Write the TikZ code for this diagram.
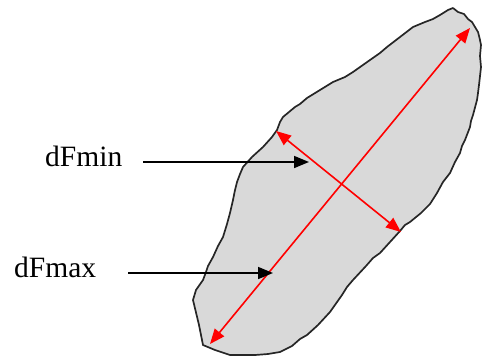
\documentclass[tikz,border=0pt]{standalone}
\usepackage{fontspec}
\setmainfont{Liberation Serif}
\usetikzlibrary{arrows.meta}

\definecolor{grainfill}{RGB}{217,217,217}

\begin{document}
\begin{tikzpicture}[x=1pt, y=-1pt,
  grain/.style={draw=black!85, fill=grainfill, line width=1.7pt, line join=round},
  feret/.style={draw=red, line width=1.6pt, {Triangle[length=15pt, width=12pt]}-{Triangle[length=15pt, width=12pt]}},
  pointer/.style={draw=black, line width=1.6pt, -{Triangle[length=15pt, width=12pt]}},
  label/.style={anchor=base west, inner sep=0pt, font=\fontsize{29.5}{32}\selectfont}]
  \useasboundingbox (0,0) rectangle (482,360);

  % grain outline
  \draw[grain] (453,8) -- (458,12) -- (464,14) -- (468,19) -- (472,22) -- (478,32)
    -- (480,40) -- (481,45) -- (480,56) -- (481,67) -- (479,85) -- (478,93)
    -- (477,100) -- (473,115) -- (471,121) -- (470,127) -- (465,140) -- (462,146)
    -- (460,153) -- (455,162) -- (450,173) -- (443,182) -- (437,193) -- (430,204)
    -- (421,213) -- (410,222) -- (405,225) -- (400,231) -- (390,242) -- (380,253)
    -- (373,258) -- (366,266) -- (353,280) -- (347,287) -- (342,295) -- (330,312)
    -- (318,325) -- (307,335) -- (300,339) -- (292,346) -- (280,352) -- (268,354)
    -- (255,355) -- (230,355) -- (215,350) -- (203,345) -- (201,335) -- (199,325)
    -- (193,300) -- (196,290) -- (203,280) -- (206,272) -- (208,266) -- (213,257)
    -- (218,246) -- (223,237) -- (227,224) -- (230,213) -- (233,200) -- (235,190)
    -- (237,182) -- (240,174) -- (243,167) -- (252,157) -- (263,147) -- (272,137)
    -- (277,130) -- (280,122) -- (283,117) -- (295,107) -- (300,104) -- (307,98)
    -- (320,90) -- (333,82) -- (345,77) -- (353,72) -- (370,60) -- (380,53)
    -- (387,47) -- (400,37) -- (413,27) -- (425,22) -- (433,19) -- (440,15)
    -- (448,10) -- cycle;

  % Feret diameters
  \coordinate (maxA) at (470,28);
  \coordinate (maxB) at (210,344);
  \coordinate (minA) at (276,131);
  \coordinate (minB) at (401,232);
  \draw[feret] (maxB) -- (maxA);
  \draw[feret] (minA) -- (minB);

  % labels
  \node[label] (dfmin) at (45,166) {dFmin};
  \node[label] (dfmax) at (14,277) {dFmax};
  \coordinate (minTail) at (143,162);
  \coordinate (minHead) at (309,162);
  \coordinate (maxTail) at (128,273);
  \coordinate (maxHead) at (273,273);
  \draw[pointer] (minTail) -- (minHead);
  \draw[pointer] (maxTail) -- (maxHead);
\end{tikzpicture}
\end{document}
